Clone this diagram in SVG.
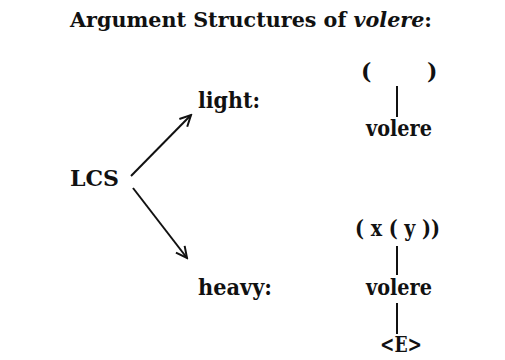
<svg xmlns="http://www.w3.org/2000/svg" width="505" height="360" viewBox="0 0 505 360">
<style>
text{font-family:"DejaVu Serif","Liberation Serif",serif;font-weight:bold;font-size:22px;fill:#111}
.t{font-size:21px}
.ln{stroke:#111;stroke-width:2;fill:none}
</style>
<defs>
<marker id="ah" viewBox="0 0 14 14" refX="12" refY="7" markerWidth="14" markerHeight="14" markerUnits="userSpaceOnUse" orient="auto">
<path d="M1,1.5 L12,7 L1,12.5" stroke="#111" stroke-width="2" fill="none"/>
</marker>
</defs>
<rect width="505" height="360" fill="#fff"/>
<text class="t" x="70" y="27" textLength="362" lengthAdjust="spacingAndGlyphs">Argument Structures of <tspan font-style="italic">volere</tspan>:</text>
<g id="lcs"><text x="70" y="186" textLength="49" lengthAdjust="spacingAndGlyphs">LCS</text></g>
<g id="light"><text x="198" y="108" textLength="62" lengthAdjust="spacingAndGlyphs">light:</text></g>
<g id="heavy"><text x="198" y="295" textLength="74" lengthAdjust="spacingAndGlyphs">heavy:</text></g>
<g id="light-struct">
<text x="361" y="79">(</text>
<text x="427" y="79">)</text>
<text x="366" y="136" textLength="66" lengthAdjust="spacingAndGlyphs">volere</text>
</g>
<g id="heavy-struct">
<text x="355" y="236" textLength="85" lengthAdjust="spacingAndGlyphs">( x ( y ))</text>
<text x="366" y="295" textLength="66" lengthAdjust="spacingAndGlyphs">volere</text>
<text x="380" y="352" font-size="16" textLength="42" lengthAdjust="spacingAndGlyphs">&lt;E&gt;</text>
</g>
<g id="connectors">
<line class="ln" x1="131" y1="176" x2="191" y2="115" marker-end="url(#ah)"/>
<line class="ln" x1="133" y1="188" x2="187" y2="258" marker-end="url(#ah)"/>
<line class="ln" x1="397" y1="86" x2="397" y2="117"/>
<line class="ln" x1="397" y1="246" x2="397" y2="275"/>
<line class="ln" x1="397" y1="303" x2="397" y2="334"/>
</g>
</svg>
